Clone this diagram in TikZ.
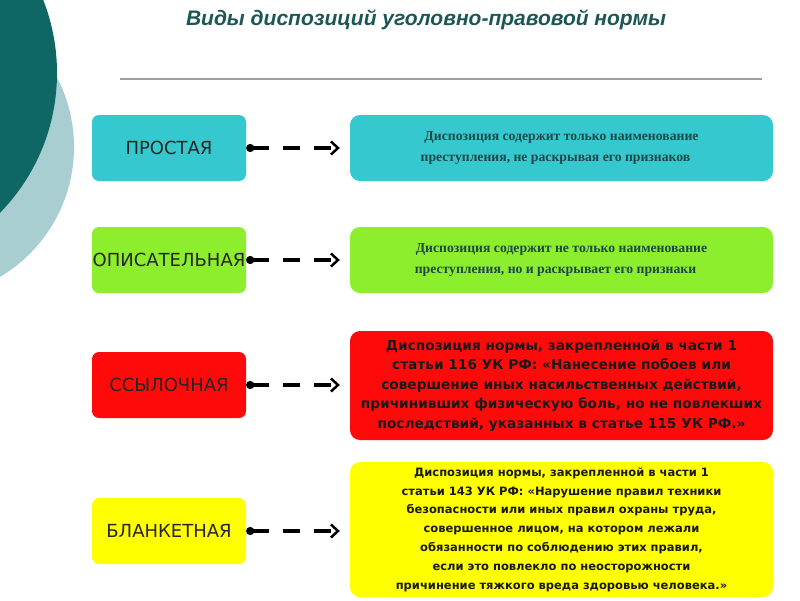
\documentclass[tikz,border=0pt]{standalone}
\usepackage{fontspec}
\setmainfont{Liberation Serif}
\newfontfamily\titlefont{Liberation Sans}
\newfontfamily\labfont{DejaVu Sans}
\usetikzlibrary{arrows.meta}
\definecolor{circdark}{HTML}{0E6764}
\definecolor{circlight}{HTML}{A9CED1}
\definecolor{titlecol}{HTML}{1B5755}
\definecolor{tealbox}{HTML}{35C8CE}
\definecolor{greenbox}{HTML}{8CEE2C}
\definecolor{redbox}{HTML}{FF0A0A}
\definecolor{yellowbox}{HTML}{FFFF00}
\definecolor{desccol}{HTML}{1E4848}
\tikzset{
  lbox/.style={rounded corners=7pt, minimum width=154pt, minimum height=66pt, inner sep=0pt,
    font={\labfont\fontsize{18}{20}\selectfont}, text=black!85},
  rbox/.style={rounded corners=10pt, minimum width=423pt, inner sep=0pt, align=center},
  plaindesc/.style={font={\bfseries\fontsize{13.7}{21}\selectfont}, text=desccol, minimum height=66pt},
  quotedesc/.style={font={\labfont\bfseries\fontsize{13.7}{19.5}\selectfont}, text=black!90},
  conn/.style={line width=3.5pt, dash pattern=on 17pt off 14pt,
    {Circle[length=8pt]}-{Straight Barb[length=7pt,width=13pt,line width=2.5pt]},
    shorten >=10pt}
}
\begin{document}
\begin{tikzpicture}[x=1pt,y=-1pt]
\useasboundingbox (0,0) rectangle (800,600);
\begin{scope}
\clip (0,0) rectangle (800,600);
\fill[circlight] (-77,147) circle (151);
\fill[circdark] (-143,73) circle (200);
\end{scope}
\node[font={\titlefont\bfseries\itshape\fontsize{21}{24}\selectfont}, text=titlecol] (title) at (426,20) {Виды диспозиций уголовно-правовой нормы};
\draw[gray!75, line width=2pt] (120,79) -- (762,79);

\node[lbox, fill=tealbox] (l1) at (169,148) {ПРОСТАЯ};
\node[lbox, fill=greenbox] (l2) at (169,260) {ОПИСАТЕЛЬНАЯ};
\node[lbox, fill=redbox] (l3) at (169,385) {ССЫЛОЧНАЯ};
\node[lbox, fill=yellowbox] (l4) at (169,531) {БЛАНКЕТНАЯ};

\node[rbox, plaindesc, fill=tealbox] (r1) at (561.5,148) {Диспозиция содержит только наименование\\преступления, не раскрывая его признаков\hspace*{12pt}};
\node[rbox, plaindesc, fill=greenbox] (r2) at (561.5,260) {Диспозиция содержит не только наименование\\преступления, но и раскрывает его признаки\hspace*{12pt}};
\node[rbox, quotedesc, fill=redbox, minimum height=109pt] (r3) at (561.5,385.5) {Диспозиция нормы, закрепленной в части 1\\статьи 116 УК РФ: «Нанесение побоев или\\совершение иных насильственных действий,\\причинивших физическую боль, но не повлекших\\последствий, указанных в статье 115 УК РФ.»};
\node[rbox, quotedesc, fill=yellowbox, minimum height=135pt, font={\labfont\bfseries\fontsize{11.5}{18.8}\selectfont}] (r4) at (561.5,529.5) {Диспозиция нормы, закрепленной в части 1\\статьи 143 УК РФ: «Нарушение правил техники\\безопасности или иных правил охраны труда,\\совершенное лицом, на котором лежали\\обязанности по соблюдению этих правил,\\если это повлекло по неосторожности\\причинение тяжкого вреда здоровью человека.»};

\draw[conn] (l1.east) -- (r1.west);
\draw[conn] (l2.east) -- (r2.west);
\draw[conn] (l3.east) -- (l3.east -| r3.west);
\draw[conn] (l4.east) -- (l4.east -| r4.west);
\end{tikzpicture}
\end{document}
